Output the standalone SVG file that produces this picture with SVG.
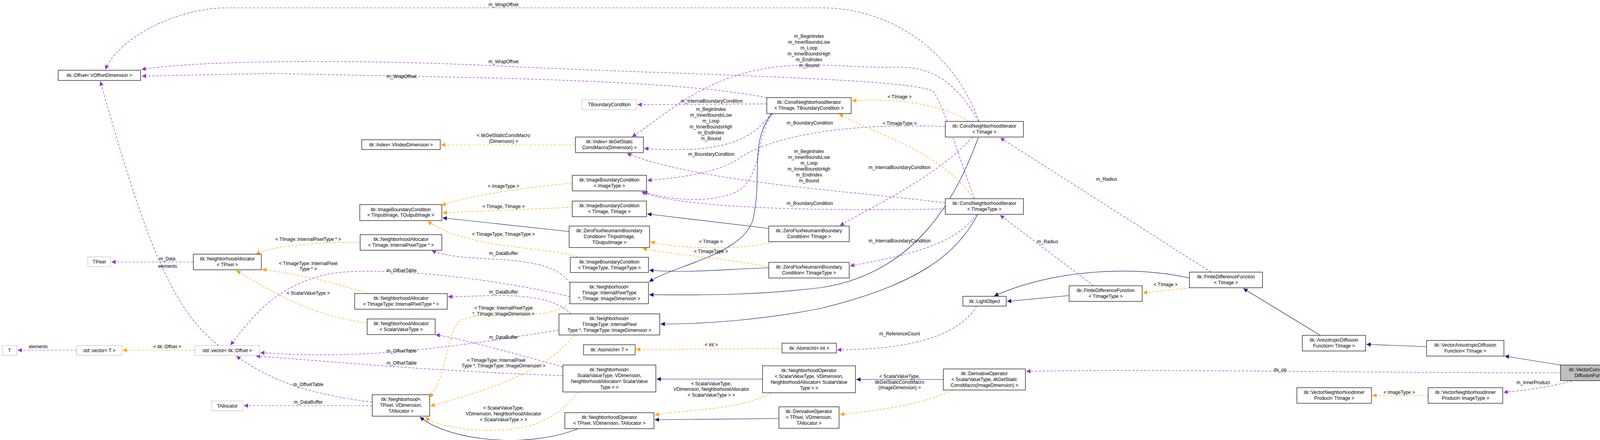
<svg xmlns="http://www.w3.org/2000/svg" width="4225" height="1127" viewBox="0 0 4225 1127">
<style>
text{font-family:"Liberation Sans",Arial,sans-serif;font-size:12px;fill:#000}
.n rect{fill:#fff;stroke:#000;stroke-width:1.2}
.g rect{fill:#fff;stroke:#bfbfbf;stroke-width:1.2}
.m rect{fill:#bfbfbf;stroke:#000;stroke-width:1.2}
.n text,.g text,.m text,.l{text-anchor:middle}
.u{fill:none;stroke:#9a32cd;stroke-width:1.2;stroke-dasharray:6,4;marker-end:url(#au)}
.t{fill:none;stroke:#ffa500;stroke-width:1.2;stroke-dasharray:6,4;marker-end:url(#at)}
.i{fill:none;stroke:#191970;stroke-width:1.2;marker-end:url(#ai)}
</style>
<defs>
<marker id="au" viewBox="0 0 10 10" refX="10" refY="5" markerWidth="11" markerHeight="11" markerUnits="userSpaceOnUse" orient="auto"><path d="M0,0L10,5L0,10z" fill="#9a32cd"/></marker>
<marker id="at" viewBox="0 0 10 10" refX="10" refY="5" markerWidth="11" markerHeight="11" markerUnits="userSpaceOnUse" orient="auto"><path d="M0,0L10,5L0,10z" fill="#ffa500"/></marker>
<marker id="ai" viewBox="0 0 10 10" refX="10" refY="5" markerWidth="11" markerHeight="11" markerUnits="userSpaceOnUse" orient="auto"><path d="M0,0L10,5L0,10z" fill="#191970"/></marker>
</defs>
<rect width="4225" height="1127" fill="#fff"/>
<g id="edges">
<path class="u" d="M2506,311 C2450,150 2300,20 2100,20 L580,20 C450,20 300,100 270,178"/>
<path class="u" d="M2495,509 C2460,420 2420,280 2390,235 C2350,200 1700,190 1300,170 C900,150 500,155 362,178"/>
<path class="u" d="M1963,250 C1700,200 1200,200 700,188 L363,195"/>
<path class="u" d="M1963,266 L1632,268"/>
<path class="u" d="M1975,291 C1940,330 1900,400 1649,380"/>
<path class="u" d="M2505,311 C2460,230 2400,170 2300,172 C2200,175 2100,160 2000,170 C1800,190 1700,300 1618,350"/>
<path class="u" d="M2420,520 C2200,490 1800,470 1605,393"/>
<path class="u" d="M2420,324 C2200,315 2000,340 1900,400 C1850,440 1750,455 1657,462"/>
<path class="u" d="M2420,535 C2200,540 1750,540 1642,491"/>
<path class="u" d="M1980,291 C1930,340 1960,480 1860,500 C1800,520 1700,510 1647,491"/>
<path class="u" d="M2490,351 C2400,450 2250,520 2150,578"/>
<path class="u" d="M2500,549 C2450,620 2350,650 2176,681"/>
<path class="t" d="M2493,509 C2400,380 2250,350 2148,292"/>
<path class="t" d="M2480,311 C2420,270 2300,250 2181,258"/>
<path class="i" d="M1976,291 C1920,360 1950,450 1930,550 C1920,650 1720,680 1662,722"/>
<path class="i" d="M2505,351 C2450,500 2350,700 2100,737 C1900,760 1750,755 1662,755"/>
<path class="i" d="M2503,549 C2450,650 2350,730 2100,790 C1950,820 1800,830 1691,830"/>
<path class="i" d="M1968,585 L1657,548"/>
<path class="i" d="M1457,593 L1133,558"/>
<path class="i" d="M1968,686 C1850,690 1750,700 1662,692"/>
<path class="t" d="M1980,619 C1900,640 1750,640 1665,619"/>
<path class="t" d="M1968,684 C1850,660 1700,650 1645,636"/>
<path class="t" d="M1465,469 C1350,480 1200,500 1131,526"/>
<path class="t" d="M1465,531 L1133,545"/>
<path class="t" d="M1480,659 C1400,630 1200,640 1095,567"/>
<path class="t" d="M1473,371 L1129,371"/>
<path class="t" d="M922,621 C800,620 700,630 655,651"/>
<path class="t" d="M940,752 C850,720 750,700 671,690"/>
<path class="t" d="M940,827 C800,810 700,750 605,693"/>
<path class="u" d="M495,671 L285,671"/>
<path class="u" d="M560,885 C450,800 380,650 257,208"/>
<path class="u" d="M196,897 L45,897"/>
<path class="t" d="M499,897 L314,897"/>
<path class="u" d="M1459,760 C1300,720 1000,680 850,700 C700,730 640,820 590,884"/>
<path class="u" d="M1431,845 C1100,900 900,920 666,903"/>
<path class="u" d="M1441,962 C1100,950 900,930 655,912"/>
<path class="u" d="M953,1030 C800,1010 700,980 605,912"/>
<path class="u" d="M953,1039 L624,1039"/>
<path class="u" d="M1459,725 C1400,640 1200,680 1105,642"/>
<path class="u" d="M1462,805 C1400,740 1250,760 1147,760"/>
<path class="u" d="M1441,940 C1300,900 1150,860 1115,858"/>
<path class="t" d="M1459,775 C1400,830 1250,790 1180,820 C1140,850 1150,950 1100,1018"/>
<path class="t" d="M1470,858 C1400,950 1250,1000 1102,1040"/>
<path class="t" d="M1480,1004 C1420,1080 1350,1110 1200,1100 C1130,1090 1100,1080 1090,1068"/>
<path class="i" d="M1480,1098 C1350,1150 1150,1130 1075,1068"/>
<path class="i" d="M1952,971 L1681,971"/>
<path class="t" d="M1975,1006 C1900,1050 1750,1050 1676,1063"/>
<path class="i" d="M1994,1072 L1676,1075"/>
<path class="t" d="M2002,893 L1628,895"/>
<path class="u" d="M2500,784 C2450,870 2300,896 2143,896"/>
<path class="i" d="M2415,972 L2192,972"/>
<path class="t" d="M2440,999 C2350,1040 2250,1050 2150,1062"/>
<path class="i" d="M2737,757 L2578,772"/>
<path class="i" d="M3045,712 C2900,680 2700,690 2545,758"/>
<path class="t" d="M3045,737 L2926,750"/>
<path class="u" d="M2800,732 L2560,551"/>
<path class="u" d="M3100,697 L2561,353"/>
<path class="i" d="M3380,859 L3183,739"/>
<path class="i" d="M3652,888 L3498,882"/>
<path class="i" d="M3995,935 L3852,912"/>
<path class="u" d="M3995,955 C3500,955 3000,945 2627,951"/>
<path class="u" d="M4025,975 C3980,990 3900,1000 3849,1005"/>
<path class="t" d="M3656,1013 L3513,1013"/>
</g>
<g id="labels" class="lb">
<text class="l" x="1289" y="16">m_WrapOffset</text>
<text class="l" x="1289" y="162">m_WrapOffset</text>
<text class="l" x="1028" y="200">m_WrapOffset</text>
<text class="l" x="1822" y="263">m_InternalBoundaryCondition</text>
<text class="l" x="1820" y="284">m_BeginIndex</text><text class="l" x="1820" y="299">m_InnerBoundsLow</text><text class="l" x="1820" y="314">m_Loop</text><text class="l" x="1820" y="329">m_InnerBoundsHigh</text><text class="l" x="1820" y="344">m_EndIndex</text><text class="l" x="1820" y="359">m_Bound</text>
<text class="l" x="2071" y="97">m_BeginIndex</text><text class="l" x="2071" y="112">m_InnerBoundsLow</text><text class="l" x="2071" y="127">m_Loop</text><text class="l" x="2071" y="142">m_InnerBoundsHigh</text><text class="l" x="2071" y="157">m_EndIndex</text><text class="l" x="2071" y="172">m_Bound</text>
<text class="l" x="2071" y="392">m_BeginIndex</text><text class="l" x="2071" y="407">m_InnerBoundsLow</text><text class="l" x="2071" y="422">m_Loop</text><text class="l" x="2071" y="437">m_InnerBoundsHigh</text><text class="l" x="2071" y="452">m_EndIndex</text><text class="l" x="2071" y="467">m_Bound</text>
<text class="l" x="2073" y="319">m_BoundaryCondition</text>
<text class="l" x="2073" y="525">m_BoundaryCondition</text>
<text class="l" x="1821" y="399">m_BoundaryCondition</text>
<text class="l" x="2303" y="433">m_InternalBoundaryCondition</text>
<text class="l" x="2303" y="621">m_InternalBoundaryCondition</text>
<text class="l" x="2303" y="252">&lt; TImage &gt;</text>
<text class="l" x="2303" y="320">&lt; TImageType &gt;</text>
<text class="l" x="1820" y="623">&lt; TImage &gt;</text>
<text class="l" x="1820" y="648">&lt; TImageType &gt;</text>
<text class="l" x="1289" y="481">&lt; ImageType &gt;</text>
<text class="l" x="1289" y="533">&lt; TImage, TImage &gt;</text>
<text class="l" x="1289" y="604">&lt; TImageType, TImageType &gt;</text>
<text class="l" x="1289" y="351">&lt; itkGetStaticConstMacro</text><text class="l" x="1289" y="366">(Dimension) &gt;</text>
<text class="l" x="789" y="617">&lt; TImage::InternalPixelType * &gt;</text>
<text class="l" x="789" y="679">&lt; TImageType::InternalPixel</text><text class="l" x="789" y="693">Type * &gt;</text>
<text class="l" x="789" y="755">&lt; ScalarValueType &gt;</text>
<text class="l" x="428" y="667">m_Data</text>
<text class="l" x="429" y="686">elements</text>
<text class="l" x="98" y="892">elements</text>
<text class="l" x="428" y="892">&lt; itk::Offset &gt;</text>
<text class="l" x="1028" y="697">m_OffsetTable</text>
<text class="l" x="1028" y="903">m_OffsetTable</text>
<text class="l" x="1028" y="934">m_OffsetTable</text>
<text class="l" x="789" y="989">m_OffsetTable</text>
<text class="l" x="789" y="1034">m_DataBuffer</text>
<text class="l" x="1289" y="653">m_DataBuffer</text>
<text class="l" x="1289" y="752">m_DataBuffer</text>
<text class="l" x="1289" y="868">m_DataBuffer</text>
<text class="l" x="1289" y="793">&lt; TImage::InternalPixelType</text><text class="l" x="1289" y="808">*, TImage::ImageDimension &gt;</text>
<text class="l" x="1270" y="927">&lt; TImageType::InternalPixel</text><text class="l" x="1289" y="941">Type *, TImageType::ImageDimension &gt;</text>
<text class="l" x="1289" y="1049">&lt; ScalarValueType,</text><text class="l" x="1289" y="1064">VDimension, NeighborhoodAllocator</text><text class="l" x="1289" y="1079">&lt; ScalarValueType &gt; &gt;</text>
<text class="l" x="1821" y="987">&lt; ScalarValueType,</text><text class="l" x="1821" y="1001">VDimension, NeighborhoodAllocator</text><text class="l" x="1821" y="1016">&lt; ScalarValueType &gt; &gt;</text>
<text class="l" x="1821" y="887">&lt; int &gt;</text>
<text class="l" x="2303" y="859">m_ReferenceCount</text>
<text class="l" x="2303" y="968">&lt; ScalarValueType,</text><text class="l" x="2303" y="983">itkGetStaticConstMacro</text><text class="l" x="2303" y="997">(ImageDimension) &gt;</text>
<text class="l" x="2984" y="733">&lt; TImage &gt;</text>
<text class="l" x="2682" y="623">m_Radius</text>
<text class="l" x="2833" y="463">m_Radius</text>
<text class="l" x="3277" y="951">dx_op</text>
<text class="l" x="3925" y="984">m_InnerProduct</text>
<text class="l" x="3582" y="1009">&lt; ImageType &gt;</text>
</g>
<g id="n_offset" class="n"><rect x="149" y="180" width="211" height="26"/><text x="254.5" y="197">itk::Offset&lt; VOffsetDimension &gt;</text></g>
<g id="n_index" class="n"><rect x="926" y="358" width="201" height="25"/><text x="1026.5" y="375">itk::Index&lt; VIndexDimension &gt;</text></g>
<g id="n_ibc_io" class="n"><rect x="921" y="524" width="210" height="41"/><text x="1026" y="541">itk::ImageBoundaryCondition</text><text x="1026" y="555">&lt; TInputImage, TOutputImage &gt;</text></g>
<g id="n_na_timg" class="n"><rect x="922" y="601" width="209" height="40"/><text x="1026.5" y="617">itk::NeighborhoodAllocator</text><text x="1026.5" y="632">&lt; TImage::InternalPixelType * &gt;</text></g>
<g id="n_na_tpixel" class="n"><rect x="495" y="651" width="174" height="40"/><text x="582" y="667">itk::NeighborhoodAllocator</text><text x="582" y="682">&lt; TPixel &gt;</text></g>
<g id="n_tpixel" class="g"><rect x="225" y="658" width="58" height="25"/><text x="254" y="675">TPixel</text></g>
<g id="n_na_timgtype" class="n"><rect x="908" y="752" width="237" height="40"/><text x="1026.5" y="768">itk::NeighborhoodAllocator</text><text x="1026.5" y="783">&lt; TImageType::InternalPixelType * &gt;</text></g>
<g id="n_na_svt" class="n"><rect x="940" y="817" width="174" height="40"/><text x="1027" y="833">itk::NeighborhoodAllocator</text><text x="1027" y="848">&lt; ScalarValueType &gt;</text></g>
<g id="n_T" class="g"><rect x="6" y="885" width="37" height="25"/><text x="24.5" y="902">T</text></g>
<g id="n_vecT" class="g"><rect x="196" y="885" width="116" height="25"/><text x="254" y="902">std::vector&lt; T &gt;</text></g>
<g id="n_vecOff" class="g"><rect x="499" y="885" width="165" height="25"/><text x="581.5" y="902">std::vector&lt; itk::Offset &gt;</text></g>
<g id="n_talloc" class="g"><rect x="542" y="1027" width="80" height="25"/><text x="582" y="1044">TAllocator</text></g>
<g id="n_nb_tpixel" class="n"><rect x="953" y="1011" width="147" height="55"/><text x="1026.5" y="1027">itk::Neighborhood&lt;</text><text x="1026.5" y="1042">TPixel, VDimension,</text><text x="1026.5" y="1057">TAllocator &gt;</text></g>
<g id="n_tbc" class="g"><rect x="1490" y="255" width="140" height="26"/><text x="1560" y="272">TBoundaryCondition</text></g>
<g id="n_index2" class="n"><rect x="1473" y="351" width="174" height="40"/><text x="1560" y="367">itk::Index&lt; itkGetStatic</text><text x="1560" y="382">ConstMacro(Dimension) &gt;</text></g>
<g id="n_ibc_it" class="n"><rect x="1465" y="449" width="190" height="40"/><text x="1560" y="465">itk::ImageBoundaryCondition</text><text x="1560" y="480">&lt; ImageType &gt;</text></g>
<g id="n_ibc_tt" class="n"><rect x="1465" y="515" width="190" height="40"/><text x="1560" y="531">itk::ImageBoundaryCondition</text><text x="1560" y="546">&lt; TImage, TImage &gt;</text></g>
<g id="n_zfn_io" class="n"><rect x="1457" y="579" width="206" height="55"/><text x="1560" y="595">itk::ZeroFluxNeumannBoundary</text><text x="1560" y="610">Condition&lt; TInputImage,</text><text x="1560" y="625">TOutputImage &gt;</text></g>
<g id="n_ibc_tyty" class="n"><rect x="1460" y="659" width="200" height="39"/><text x="1560" y="675">itk::ImageBoundaryCondition</text><text x="1560" y="690">&lt; TImageType, TImageType &gt;</text></g>
<g id="n_nb_timg" class="n"><rect x="1459" y="723" width="201" height="55"/><text x="1559.5" y="739">itk::Neighborhood&lt;</text><text x="1559.5" y="754">TImage::InternalPixelType</text><text x="1559.5" y="769">*, TImage::ImageDimension &gt;</text></g>
<g id="n_nb_timgtype" class="n"><rect x="1431" y="804" width="258" height="54"/><text x="1560" y="820">itk::Neighborhood&lt;</text><text x="1560" y="835">TImageType::InternalPixel</text><text x="1560" y="850">Type *, TImageType::ImageDimension &gt;</text></g>
<g id="n_atomicT" class="n"><rect x="1494" y="883" width="132" height="26"/><text x="1560" y="900">itk::AtomicInt&lt; T &gt;</text></g>
<g id="n_nb_svt" class="n"><rect x="1441" y="935" width="238" height="69"/><text x="1560" y="951">itk::Neighborhood&lt;</text><text x="1560" y="966">ScalarValueType, VDimension,</text><text x="1560" y="981">NeighborhoodAllocator&lt; ScalarValue</text><text x="1560" y="996">Type &gt; &gt;</text></g>
<g id="n_no_tpixel" class="n"><rect x="1446" y="1057" width="228" height="41"/><text x="1560" y="1073">itk::NeighborhoodOperator</text><text x="1560" y="1088">&lt; TPixel, VDimension, TAllocator &gt;</text></g>
<g id="n_cni_tbc" class="n"><rect x="1963" y="250" width="216" height="41"/><text x="2071" y="266">itk::ConstNeighborhoodIterator</text><text x="2071" y="281">&lt; TImage, TBoundaryCondition &gt;</text></g>
<g id="n_zfn_ti" class="n"><rect x="1968" y="579" width="206" height="40"/><text x="2071" y="595">itk::ZeroFluxNeumannBoundary</text><text x="2071" y="610">Condition&lt; TImage &gt;</text></g>
<g id="n_zfn_tt" class="n"><rect x="1968" y="672" width="206" height="40"/><text x="2071" y="688">itk::ZeroFluxNeumannBoundary</text><text x="2071" y="703">Condition&lt; TImageType &gt;</text></g>
<g id="n_atomicInt" class="n"><rect x="2002" y="879" width="139" height="25"/><text x="2071.5" y="896">itk::AtomicInt&lt; int &gt;</text></g>
<g id="n_no_svt" class="n"><rect x="1952" y="937" width="238" height="69"/><text x="2071" y="953">itk::NeighborhoodOperator</text><text x="2071" y="968">&lt; ScalarValueType, VDimension,</text><text x="2071" y="983">NeighborhoodAllocator&lt; ScalarValue</text><text x="2071" y="998">Type &gt; &gt;</text></g>
<g id="n_do_tpixel" class="n"><rect x="1994" y="1042" width="154" height="55"/><text x="2071" y="1058">itk::DerivativeOperator</text><text x="2071" y="1073">&lt; TPixel, VDimension,</text><text x="2071" y="1088">TAllocator &gt;</text></g>
<g id="n_cni_ti" class="n"><rect x="2420" y="311" width="200" height="40"/><text x="2520" y="327">itk::ConstNeighborhoodIterator</text><text x="2520" y="342">&lt; TImage &gt;</text></g>
<g id="n_cni_tt" class="n"><rect x="2420" y="509" width="200" height="40"/><text x="2520" y="525">itk::ConstNeighborhoodIterator</text><text x="2520" y="540">&lt; TImageType &gt;</text></g>
<g id="n_light" class="n"><rect x="2465" y="759" width="111" height="25"/><text x="2520.5" y="776">itk::LightObject</text></g>
<g id="n_fdf_tt" class="n"><rect x="2737" y="732" width="187" height="40"/><text x="2830.5" y="748">itk::FiniteDifferenceFunction</text><text x="2830.5" y="763">&lt; TImageType &gt;</text></g>
<g id="n_fdf_ti" class="n"><rect x="3045" y="697" width="187" height="40"/><text x="3138.5" y="713">itk::FiniteDifferenceFunction</text><text x="3138.5" y="728">&lt; TImage &gt;</text></g>
<g id="n_do_svt" class="n"><rect x="2415" y="945" width="210" height="54"/><text x="2520" y="961">itk::DerivativeOperator</text><text x="2520" y="976">&lt; ScalarValueType, itkGetStatic</text><text x="2520" y="991">ConstMacro(ImageDimension) &gt;</text></g>
<g id="n_aniso" class="n"><rect x="3334" y="859" width="162" height="40"/><text x="3415" y="875">itk::AnisotropicDiffusion</text><text x="3415" y="890">Function&lt; TImage &gt;</text></g>
<g id="n_vaniso" class="n"><rect x="3652" y="872" width="198" height="40"/><text x="3751" y="888">itk::VectorAnisotropicDiffusion</text><text x="3751" y="903">Function&lt; TImage &gt;</text></g>
<g id="n_main" class="m"><rect x="3995" y="935" width="225" height="40"/><text x="4107.5" y="951">itk::VectorCurvatureNDAnisotropic</text><text x="4107.5" y="966">DiffusionFunction&lt; TImage &gt;</text></g>
<g id="n_vnip_ti" class="n"><rect x="3320" y="993" width="191" height="40"/><text x="3415.5" y="1009">itk::VectorNeighborhoodInner</text><text x="3415.5" y="1024">Product&lt; TImage &gt;</text></g>
<g id="n_vnip_it" class="n"><rect x="3656" y="993" width="191" height="40"/><text x="3751.5" y="1009">itk::VectorNeighborhoodInner</text><text x="3751.5" y="1024">Product&lt; ImageType &gt;</text></g>
</svg>
